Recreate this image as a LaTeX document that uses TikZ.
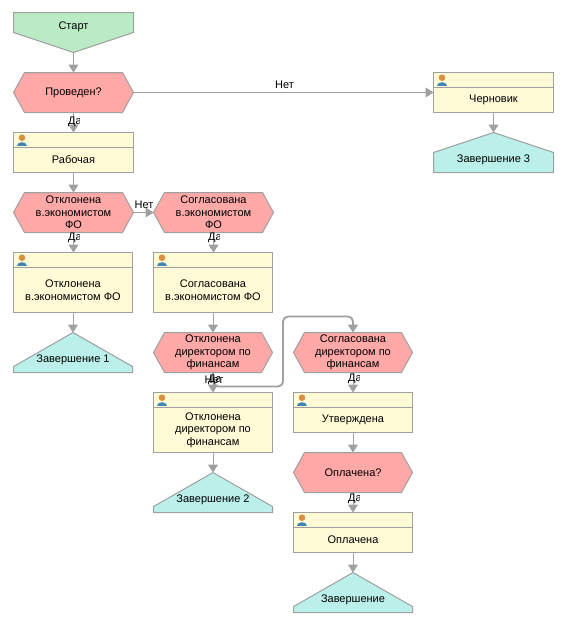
\documentclass[tikz,border=0pt]{standalone}
\usepackage{fontspec}
\setmainfont{Liberation Sans}
\usepackage{xcolor}
\usetikzlibrary{arrows.meta,calc,positioning}
\definecolor{liniya}{HTML}{A0A0A0}
\definecolor{zelen}{HTML}{BAEBC5}
\definecolor{rozov}{HTML}{FFA8A8}
\definecolor{zhelt}{HTML}{FFFBD6}
\definecolor{biruza}{HTML}{BAEFEA}
\definecolor{golova}{HTML}{D9903F}
\definecolor{plechi}{HTML}{3F87B5}
\tikzset{
  blok/.style={rectangle,inner sep=0pt,outer sep=0pt},
  kontur/.style={draw=liniya,line width=1pt},
  tekst/.style={inner sep=0pt,align=center,font=\fontsize{11}{12.5}\selectfont},
  svyaz/.style={-{Triangle[length=8pt,width=10pt]},draw=liniya,line width=1pt},
  svyaztolst/.style={svyaz,line width=1.8pt,rounded corners=5pt},
  polzovatel/.pic={
    \fill[plechi] (3.5,13.5) .. controls (3.5,8.5) and (13.5,8.5) .. (13.5,13.5) -- cycle;
    \fill[golova] (8.5,5.2) circle (3.3);
  }
}
% name, x, y, width, height, text
\newcommand{\uzelstart}[6]{
  \node[blok,minimum width=#4,minimum height=#5] (#1) at (#2,#3) {};
  \draw[kontur,fill=zelen] (#1.north west) -- (#1.north east) -- (#1.east) -- (#1.south) -- (#1.west) -- cycle;
  \node[tekst] (#1t) at ($(#1.center)+(0,-6)$) {#6};
}
\newcommand{\uzelvopros}[6]{
  \node[blok,minimum width=#4,minimum height=#5] (#1) at (#2,#3) {};
  \draw[kontur,fill=rozov] (#1.west) -- ($(#1.north west)+(11,0)$) -- ($(#1.north east)+(-11,0)$) -- (#1.east)
    -- ($(#1.south east)+(-11,0)$) -- ($(#1.south west)+(11,0)$) -- cycle;
  \node[tekst] (#1t) at (#1.center) {#6};
}
\newcommand{\uzelstatus}[6]{
  \node[blok,minimum width=#4,minimum height=#5] (#1) at (#2,#3) {};
  \draw[kontur,fill=zhelt] (#1.north west) rectangle (#1.south east);
  \draw[kontur] ($(#1.north west)+(0,15)$) -- ($(#1.north east)+(0,15)$);
  \pic at (#1.north west) {polzovatel};
  \node[tekst] (#1t) at ($(#1.center)+(0,7.5)$) {#6};
}
% last argument before the text: height of the low side wall
\newcommand{\uzelkonec}[6]{
  \node[blok,minimum width=#4,minimum height=40] (#1) at (#2,#3) {};
  \draw[kontur,fill=biruza] (#1.south west) -- ($(#1.south west)+(0,-#5)$) -- (#1.north)
    -- ($(#1.south east)+(0,-#5)$) -- (#1.south east) -- cycle;
  \node[tekst] (#1t) at ($(#1.center)+(0,7)$) {#6};
}
% the short label is cut off by its box
\newcommand{\metkada}[3]{
  \begin{scope}
    \clip (#2,#3-7) rectangle (#2+11,#3+7);
    \node[tekst,anchor=west] (#1) at (#2,#3) {Да};
  \end{scope}
}
\begin{document}
\begin{tikzpicture}[x=1pt,y=-1pt]
\useasboundingbox (0,0) rectangle (574,624);
% levaya kolonka
\uzelstart{start}{73.5}{32.5}{120}{40}{Старт}
\uzelvopros{proveden}{73.5}{92.5}{120}{40}{Проведен?}
\uzelstatus{rabochaya}{73.5}{152.5}{120}{40}{Рабочая}
\uzelvopros{otklek}{73.5}{212.5}{120}{40}{Отклонена\\в.экономистом\\ФО}
\uzelstatus{stotklek}{73}{282.5}{119}{60}{Отклонена\\в.экономистом ФО}
\uzelkonec{konec1}{73}{352.5}{119}{6}{Завершение 1}
% vtoraya kolonka
\uzelvopros{soglek}{213.5}{212.5}{120}{40}{Согласована\\в.экономистом\\ФО}
\uzelstatus{stsoglek}{213}{282.5}{119}{60}{Согласована\\в.экономистом ФО}
\uzelvopros{otkldir}{213}{352.5}{119}{40}{Отклонена\\директором по\\финансам}
\uzelstatus{stotkldir}{213}{422.5}{119}{60}{Отклонена\\директором по\\финансам}
\uzelkonec{konec2}{213}{492.5}{119}{6}{Завершение 2}
% tretya kolonka
\uzelvopros{sogldir}{353}{352.5}{119}{40}{Согласована\\директором по\\финансам}
\uzelstatus{utverzhdena}{353}{412.5}{119}{40}{Утверждена}
\uzelvopros{oplachenaq}{353}{472.5}{119}{40}{Оплачена?}
\uzelstatus{oplachena}{353}{532.5}{119}{40}{Оплачена}
\uzelkonec{konec}{353}{592.5}{119}{6}{Завершение}
% chernovik
\uzelstatus{chernovik}{493.5}{92.5}{120}{40}{Черновик}
\uzelkonec{konec3}{493.5}{152.5}{120}{20}{Завершение 3}
% svyazi
\draw[svyaz] (start.south) -- (proveden.north);
\draw[svyaz] (proveden.south) -- (rabochaya.north);
\draw[svyaz] (proveden.east) -- (chernovik.west);
\draw[svyaz] (chernovik.south) -- (konec3.north);
\draw[svyaz] (rabochaya.south) -- (otklek.north);
\draw[svyaz] (otklek.east) -- (soglek.west);
\draw[svyaz] (otklek.south) -- (otklek.south |- stotklek.north);
\draw[svyaz] (stotklek.south) -- (konec1.north);
\draw[svyaz] (soglek.south) -- (soglek.south |- stsoglek.north);
\draw[svyaz] (stsoglek.south) -- (otkldir.north);
\draw[svyaz] (otkldir.south) -- (stotkldir.north);
\draw[svyaz] (stotkldir.south) -- (konec2.north);
\coordinate (povorot1) at (283,386.5);
\coordinate (povorot2) at (283,316.5);
\draw[svyaztolst] (otkldir.south) |- (povorot1) -- (povorot2) -| (sogldir.north);
\draw[svyaz] (sogldir.south) -- (utverzhdena.north);
\draw[svyaz] (utverzhdena.south) -- (oplachenaq.north);
\draw[svyaz] (oplachenaq.south) -- (oplachena.north);
\draw[svyaz] (oplachena.south) -- (konec.north);
% metki
\node[tekst] (net1) at (284.5,85) {Нет};
\node[tekst] (net2) at (144,205) {Нет};
\node[tekst] (net3) at (214,380) {Нет};
\metkada{da1}{68}{122}
\metkada{da2}{68}{238}
\metkada{da3}{208}{238}
\metkada{da4}{208}{380}
\metkada{da5}{348}{379}
\metkada{da6}{348}{499}
\end{tikzpicture}
\end{document}
